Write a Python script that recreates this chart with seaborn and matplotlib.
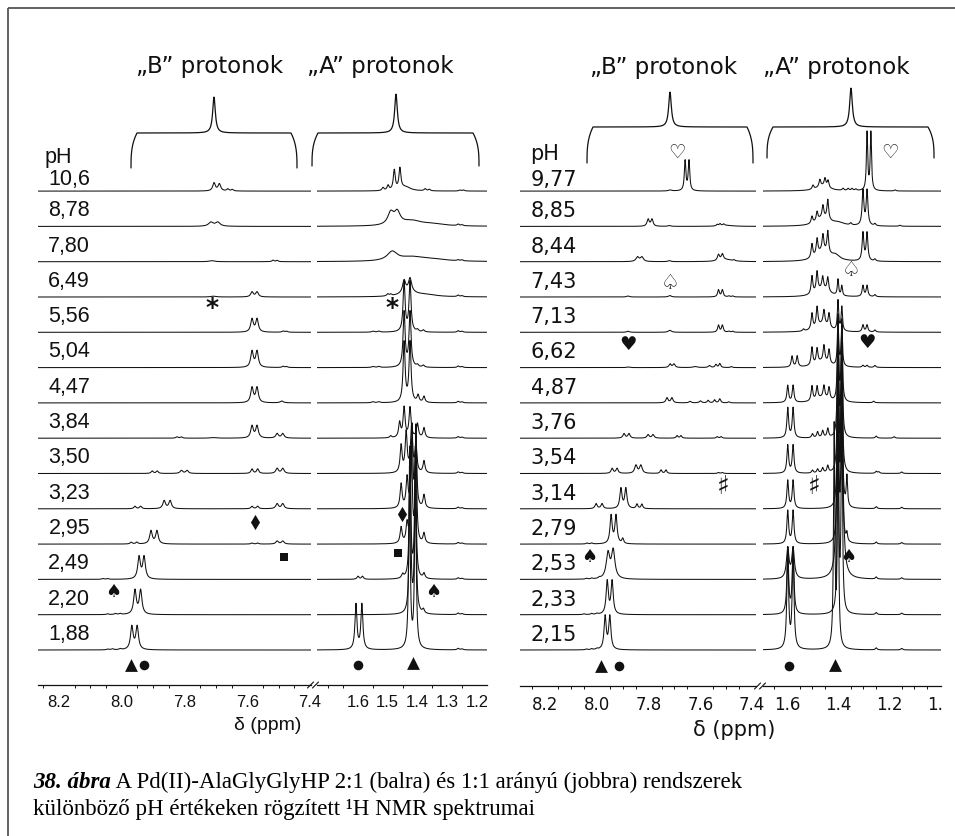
import numpy as np
import pandas as pd
import matplotlib
matplotlib.use("Agg")
import matplotlib.pyplot as plt
import seaborn as sns
from matplotlib.transforms import Bbox, TransformedBbox

sns.set_theme(style="white")
plt.rcParams["font.family"] = ["Liberation Sans", "DejaVu Sans"]

W, H = 955, 836
STEP = 35.3  # vertical offset between stacked spectra

ph_left = ["10,6", "8,78", "7,80", "6,49", "5,56", "5,04", "4,47",
           "3,84", "3,50", "3,23", "2,95", "2,49", "2,20", "1,88"]
ph_right = ["9,77", "8,85", "8,44", "7,43", "7,13", "6,62", "4,87",
            "3,76", "3,54", "3,14", "2,79", "2,53", "2,33", "2,15"]

# peak lists per spectrum: (shift / ppm, intensity, half width / ppm)
left_b = [
    [(7.706, 8, .005), (7.689, 7, .005), (7.662, 2, .004), (7.648, 1.5, .004)],
    [(7.716, 4, .009), (7.694, 4, .009)],
    [(7.713, 1, .01), (7.518, 1.5, .004), (7.505, 1.3, .004)],
    [(7.708, .8, .01), (7.585, 5, .005), (7.569, 5, .005)],
    [(7.585, 13, .005), (7.569, 13, .005), (7.486, 1.2, .004), (7.475, 1, .004)],
    [(7.585, 16, .005), (7.569, 16, .005), (7.486, 1.2, .004), (7.475, 1, .004)],
    [(7.585, 15, .005), (7.569, 15, .005), (7.49, 1.8, .006)],
    [(7.824, 1.3, .004), (7.81, 1.2, .004), (7.71, .6, .01), (7.585, 12, .005),
     (7.569, 12, .005), (7.505, 4.5, .005), (7.487, 4.5, .005)],
    [(7.903, 2.5, .004), (7.887, 2.5, .004), (7.81, 3, .005), (7.792, 3, .005),
     (7.585, 4.5, .004), (7.567, 4.5, .004), (7.505, 5, .005), (7.487, 5, .005)],
    [(7.958, 2.5, .004), (7.94, 2.5, .004), (7.865, 8, .005), (7.846, 8, .005),
     (7.585, 2.5, .004), (7.567, 2.5, .004), (7.505, 5, .005), (7.487, 5, .005)],
    [(7.97, 1.8, .004), (7.952, 1.8, .004), (7.907, 13, .005), (7.888, 13, .005),
     (7.585, 1, .004), (7.567, 1, .004), (7.505, 3, .005), (7.487, 3, .005)],
    [(8.06, .8, .004), (8.045, .8, .004), (7.945, 22, .005), (7.929, 22, .005)],
    [(8.045, .8, .004), (8.02, 1, .004), (8.005, 1, .004), (7.958, 24, .005), (7.94, 24, .005)],
    [(8.045, .8, .004), (8.03, 1, .004), (8.005, 1, .004), (7.968, 23, .005), (7.951, 23, .005)],
]

left_a = [
    [(1.516, 3, .004), (1.499, 5, .004), (1.478, 20, .004), (1.459, 21, .004), (1.44, 4, .02),
     (1.374, 2, .004), (1.36, 1.5, .004), (1.257, 1, .004), (1.245, 1, .004)],
    [(1.49, 12, .012), (1.468, 12, .012), (1.42, 5, .04), (1.35, 2, .05), (1.263, 1.5, .004), (1.25, 1, .004)],
    [(1.485, 9, .02), (1.42, 4, .05), (1.35, 2, .06), (1.263, 1, .004), (1.25, 1, .004)],
    [(1.50, 2, .004), (1.49, 1.5, .004), (1.445, 12, .006), (1.425, 13, .006), (1.43, 5, .03),
     (1.37, 2, .04), (1.263, 1.5, .004), (1.25, 1, .004)],
    [(1.55, 1, .005), (1.53, 1, .005), (1.445, 50, .004), (1.425, 50, .004), (1.40, 2, .004),
     (1.38, 2, .004), (1.263, 1.5, .004), (1.25, 1, .004)],
    [(1.55, 1, .005), (1.53, 1, .005), (1.445, 55, .004), (1.425, 55, .004), (1.40, 2, .004),
     (1.38, 2, .004), (1.263, 1.5, .004), (1.25, 1, .004)],
    [(1.55, 1, .005), (1.53, 1, .005), (1.445, 60, .004), (1.425, 60, .004), (1.398, 7, .004),
     (1.378, 6, .004), (1.263, 1.5, .004), (1.25, 1, .004)],
    [(1.49, 2, .004), (1.46, 15, .004), (1.445, 30, .004), (1.425, 30, .004), (1.40, 14, .004),
     (1.378, 10, .004), (1.263, 1.5, .004), (1.25, 1, .004)],
    [(1.455, 27, .004), (1.438, 40, .004), (1.42, 45, .004), (1.405, 25, .004), (1.378, 12, .004),
     (1.263, 1.5, .004), (1.25, 1, .004)],
    [(1.455, 24, .004), (1.435, 30, .004), (1.418, 80, .003), (1.405, 80, .003), (1.378, 13, .004),
     (1.263, 1.5, .004), (1.25, 1, .004)],
    [(1.455, 16, .004), (1.435, 19, .004), (1.42, 100, .003), (1.405, 100, .003), (1.378, 10, .004),
     (1.263, 1.5, .004), (1.25, 1, .004)],
    [(1.60, 3, .004), (1.585, 3, .004), (1.45, 4, .004), (1.425, 130, .003), (1.407, 130, .003),
     (1.378, 5, .004), (1.263, 1.5, .004), (1.25, 1, .004)],
    [(1.425, 160, .003), (1.407, 160, .003), (1.38, 4, .004), (1.263, 1.5, .004), (1.25, 1, .004)],
    [(1.607, 45, .004), (1.587, 45, .004), (1.427, 180, .003), (1.407, 180, .003),
     (1.263, 1.5, .004), (1.25, 1, .004)],
]

right_b = [
    [(7.717, 1, .008), (7.659, 30, .0035), (7.644, 30, .0035)],
    [(7.802, 7, .005), (7.787, 7, .005), (7.72, .8, .006), (7.535, 1.5, .004), (7.524, 2, .004),
     (7.51, 1.5, .004), (7.5, 1, .03)],
    [(7.843, 4.5, .007), (7.826, 4.5, .007), (7.72, 1, .006), (7.53, 6, .005), (7.515, 6, .005),
     (7.5, 2, .03), (7.47, 1, .004)],
    [(7.88, 1, .006), (7.718, 1.5, .006), (7.53, 7, .004), (7.515, 7, .004), (7.49, 1, .004), (7.475, 1, .004)],
    [(7.88, 1, .006), (7.718, 2, .007), (7.53, 7, .004), (7.515, 7, .004), (7.49, 1, .004), (7.475, 1, .004)],
    [(7.88, .6, .006), (7.717, 3.5, .005), (7.702, 3.5, .005), (7.62, 1, .01), (7.565, 2, .005),
     (7.54, 3, .004), (7.525, 4, .004), (7.48, 1, .004)],
    [(7.729, 5, .005), (7.71, 5, .005), (7.64, 1.5, .005), (7.6, 2, .005), (7.57, 2.5, .004),
     (7.545, 3, .004), (7.525, 4, .004), (7.49, 1, .004)],
    [(7.895, 4.5, .005), (7.876, 4.5, .005), (7.802, 3.5, .005), (7.783, 3.5, .005),
     (7.69, 2.5, .004), (7.675, 2.5, .004), (7.535, 1.5, .004), (7.52, 1.5, .004)],
    [(7.941, 5, .005), (7.922, 5, .005), (7.849, 8, .006), (7.83, 8, .006), (7.752, 3.5, .004),
     (7.733, 3.5, .004), (7.53, 1, .004), (7.515, 1, .004)],
    [(8.003, 5, .005), (7.98, 5, .005), (7.907, 20, .005), (7.888, 20, .005), (7.845, 4.5, .004),
     (7.826, 4.5, .004)],
    [(8.038, 1, .004), (8.02, 1, .004), (7.945, 28, .005), (7.926, 28, .005), (7.9, 5, .004)],
    [(8.04, .8, .004), (8.02, .8, .004), (7.99, 1, .004), (7.957, 25, .008), (7.937, 28, .008)],
    [(8.05, .8, .004), (8.02, 1, .004), (8.0, 1, .004), (7.96, 33, .005), (7.941, 33, .005)],
    [(8.04, .8, .004), (8.02, 1, .004), (8.0, 1, .004), (7.968, 33, .005), (7.95, 33, .005)],
]

right_a = [
    [(1.498, 4, .004), (1.471, 7, .004), (1.451, 8, .004), (1.439, 7, .004), (1.46, 5, .03),
     (1.38, 2, .004), (1.36, 2, .004), (1.345, 2, .004), (1.33, 1.5, .004), (1.286, 58, .003),
     (1.271, 58, .003), (1.176, 1, .004)],
    [(1.502, 7, .004), (1.482, 9, .004), (1.459, 12, .004), (1.44, 20, .004), (1.46, 8, .03),
     (1.40, 3, .03), (1.35, 2, .004), (1.302, 35, .004), (1.286, 35, .004), (1.255, 2, .004),
     (1.157, 1, .004)],
    [(1.502, 14, .004), (1.482, 16, .004), (1.459, 16, .004), (1.44, 22, .004), (1.46, 10, .03),
     (1.41, 5, .02), (1.302, 28, .004), (1.286, 28, .004), (1.255, 2, .004)],
    [(1.502, 18, .004), (1.482, 20, .004), (1.46, 12, .004), (1.44, 14, .004), (1.40, 16, .003),
     (1.385, 10, .003), (1.46, 8, .03), (1.302, 11, .004), (1.286, 11, .004), (1.255, 2, .004)],
    [(1.535, 2, .004), (1.502, 16, .004), (1.482, 20, .004), (1.455, 14, .004), (1.435, 14, .004),
     (1.40, 30, .003), (1.385, 24, .003), (1.46, 8, .03), (1.302, 7, .004), (1.286, 7, .004),
     (1.255, 2, .004)],
    [(1.58, 11, .004), (1.56, 11, .004), (1.502, 18, .004), (1.482, 15, .004), (1.455, 16, .004),
     (1.435, 14, .004), (1.40, 45, .003), (1.385, 40, .003), (1.46, 6, .03), (1.302, 2, .004),
     (1.286, 2, .004), (1.255, 2, .004)],
    [(1.597, 17, .004), (1.576, 17, .004), (1.502, 15, .004), (1.482, 13, .004), (1.455, 12, .004),
     (1.435, 12, .004), (1.40, 80, .003), (1.385, 75, .003), (1.46, 5, .03), (1.26, 1.5, .004)],
    [(1.597, 30, .004), (1.576, 30, .004), (1.50, 4, .004), (1.48, 6, .004), (1.46, 7, .004),
     (1.44, 9, .004), (1.40, 120, .003), (1.385, 115, .003), (1.25, 2, .004), (1.18, 1.5, .004)],
    [(1.597, 28, .004), (1.576, 28, .004), (1.50, 3, .004), (1.48, 4, .004), (1.46, 5, .004),
     (1.44, 7, .004), (1.40, 150, .003), (1.385, 145, .003), (1.25, 2, .004), (1.24, 1.5, .004),
     (1.15, 1.5, .004)],
    [(1.597, 28, .004), (1.576, 28, .004), (1.40, 170, .003), (1.385, 165, .003), (1.365, 30, .003),
     (1.25, 2, .004), (1.15, 1.5, .004)],
    [(1.597, 33, .004), (1.576, 33, .004), (1.40, 190, .003), (1.385, 185, .003), (1.365, 8, .003),
     (1.25, 2, .004), (1.15, 1.5, .004)],
    [(1.597, 30, .006), (1.576, 30, .006), (1.40, 200, .005), (1.385, 195, .005), (1.25, 2, .004),
     (1.15, 1.5, .004)],
    [(1.597, 65, .004), (1.576, 65, .004), (1.40, 210, .003), (1.385, 205, .003), (1.25, 2, .004),
     (1.15, 1.5, .004)],
    [(1.597, 100, .004), (1.576, 100, .004), (1.415, 220, .003), (1.40, 215, .003), (1.25, 2, .004),
     (1.15, 1.5, .004)],
]

# tick values per panel
lb_major = [8.2, 8.0, 7.8, 7.6, 7.4]
la_major = [1.6, 1.5, 1.4, 1.3, 1.2]
rb_major = [8.2, 8.0, 7.8, 7.6, 7.4]
ra_major = [1.6, 1.4, 1.2, 1.0]

fig = plt.figure(figsize=(W / 100, H / 100), dpi=100)
fig.patch.set_facecolor("white")

# pixel-space overlay for frame, brackets, labels and markers
ov = fig.add_axes([0, 0, 1, 1])
ov.set_xlim(0, W)
ov.set_ylim(H, 0)
ov.axis("off")


def spectrum(grid, peaks):
    y = np.zeros_like(grid)
    for c, h, w in peaks:
        y += h * w ** 2 / ((grid - c) ** 2 + w ** 2)
    return y


def panel(x0, x1, axis_y, xlim, peaks_list, major, minor_step, clip_x=None,
          tick_font="Liberation Sans", tick_size=12):
    ax = fig.add_axes([x0 / W, 1 - axis_y / H, (x1 - x0) / W, (axis_y - 55) / H])
    ax.patch.set_visible(False)
    grid = np.linspace(xlim[0], xlim[1], 2200)
    frames = []
    for i, peaks in enumerate(peaks_list):
        frames.append(pd.DataFrame({"ppm": grid,
                                    "signal": spectrum(grid, peaks) + (13 - i) * STEP,
                                    "row": i}))
    df = pd.concat(frames, ignore_index=True)
    sns.lineplot(data=df, x="ppm", y="signal", units="row", estimator=None, sort=False,
                 color="#111111", linewidth=0.75, ax=ax, legend=False)
    ax.set_xlim(*xlim)
    ax.set_ylim(-(axis_y - 650), 650 - 55)
    ax.set_xlabel("")
    ax.set_ylabel("")
    ax.set_yticks([])
    for s in ("top", "left", "right"):
        ax.spines[s].set_visible(False)
    ax.spines["bottom"].set_color("#111111")
    ax.spines["bottom"].set_linewidth(0.9)
    ax.set_xticks(major, [f"{v:.1f}" for v in major])
    lo, hi = min(xlim), max(xlim)
    mn = np.arange(np.ceil(lo / minor_step) * minor_step, hi, minor_step)
    ax.set_xticks(mn, minor=True)
    ax.tick_params(axis="x", which="major", direction="out", length=4, width=0.8,
                   color="#111111", pad=3, labelsize=tick_size, labelcolor="#111111")
    ax.tick_params(axis="x", which="minor", direction="out", length=2.5, width=0.7,
                   color="#111111", bottom=True)
    for lbl in ax.get_xticklabels():
        lbl.set_fontfamily(tick_font)
        if clip_x is not None:
            lbl.set_clip_on(True)
            lbl.set_clip_box(TransformedBbox(Bbox.from_extents(0, 0, clip_x / W, 1),
                                             fig.transFigure))
    return ax


panel(38, 311, 685, (8.267, 7.397), left_b, lb_major, 0.05)
panel(317, 487, 685, (1.738, 1.166), left_a, la_major, 0.05, clip_x=487)
panel(520, 756, 686, (8.297, 7.385), right_b, rb_major, 0.05,
      tick_font="DejaVu Sans", tick_size=12)
panel(763, 941, 686, (1.694, 0.996), right_a, ra_major, 0.05, clip_x=942,
      tick_font="DejaVu Sans", tick_size=12)

ink = "#111111"

# frame
ov.plot([8, W], [8, 8], color="#555555", lw=1.3, solid_capstyle="butt")
ov.plot([8, 8], [8, H], color="#555555", lw=1.3, solid_capstyle="butt")

# axis breaks
for bx, by in [(313, 685), (760, 686)]:
    for dx in (-2.5, 2.5):
        ov.plot([bx + dx - 3, bx + dx + 3], [by + 3, by - 3], color=ink, lw=0.8)


def bracket(x0, x1, y_h, y_end, y_top, xc):
    s = np.linspace(0, 1, 40)
    lx = x0 + 6 * s ** 3
    ly = y_end - (y_end - y_h) * s
    xs = np.linspace(x0 + 6, x1 - 6, 600)
    w = 1.6
    ys = y_h - (y_h - y_top) * w ** 2 / ((xs - xc) ** 2 + w ** 2)
    rx = x1 - 6 * s[::-1] ** 3
    ry = y_end - (y_end - y_h) * s[::-1]
    X = np.concatenate([lx, xs, rx])
    Y = np.concatenate([ly, ys, ry])
    ov.plot(X, Y, color=ink, lw=0.9)


bracket(131, 297, 133, 168, 97, 214)
bracket(312, 479, 133, 166, 94, 396)
bracket(587, 753, 127, 163, 92, 670)
bracket(767, 934, 127, 158, 88, 851)

hdr = dict(fontsize=16.5, family="DejaVu Sans", color=ink, ha="center", va="baseline")
ov.text(210, 73, "\u201eB\u201d protonok", **hdr)
ov.text(380, 73, "\u201eA\u201d protonok", **hdr)
ov.text(664, 74, "\u201eB\u201d protonok", **hdr)
ov.text(836, 74, "\u201eA\u201d protonok", **hdr)

# pH labels
ov.text(45, 163, "pH", fontsize=15.5, family="Liberation Sans", color=ink, va="baseline")
for i, lab in enumerate(ph_left):
    yb = 191 + i * STEP
    ov.text(90, yb - (6 if i == 0 else 10), lab, fontsize=15.5, family="Liberation Sans",
            color=ink, ha="right", va="baseline")
ov.text(530, 160, "pH", fontsize=15, family="DejaVu Sans", color=ink, va="baseline")
for i, lab in enumerate(ph_right):
    yb = 191 + i * STEP
    ov.text(577, yb - (5 if i == 0 else 9), lab, fontsize=15, family="DejaVu Sans",
            color=ink, ha="right", va="baseline")

# axis titles
ov.text(268, 726, "\u03b4 (ppm)", fontsize=14, family="Liberation Sans", color=ink,
        ha="center", va="center")
ov.text(734, 730, "\u03b4 (ppm)", fontsize=15, family="DejaVu Sans", color=ink,
        ha="center", va="center")

# signal markers
ov.scatter([131, 413, 601, 835], [665, 663, 666, 665], marker="^", s=85, color=ink, lw=0)
ov.scatter([144, 358, 619, 789], [665, 665, 666, 666], marker="o", s=48, color=ink, lw=0)
ov.scatter([255, 402], [522, 514], marker="d", s=60, color=ink, lw=0)
ov.scatter([284, 398], [557, 553], marker="s", s=36, color=ink, lw=0)
sym = dict(family="DejaVu Sans", color=ink, ha="center", va="center")
for x, y in [(113, 592), (433, 592), (589, 557), (848, 557)]:
    ov.text(x, y, "\u2660", fontsize=13, **sym)
for x, y in [(677, 152), (890, 152)]:
    ov.text(x, y, "\u2661", fontsize=14, **sym)
for x, y in [(670, 283), (851, 270)]:
    ov.text(x, y, "\u2664", fontsize=15, **sym)
for x, y in [(628, 345), (867, 343)]:
    ov.text(x, y, "\u2665", fontsize=14, **sym)
for x, y in [(723, 487), (814, 487)]:
    ov.text(x, y, "\u266f", fontsize=19, **sym)
for x, y in [(212, 308), (392, 308)]:
    ov.text(x, y, "*", fontsize=18, fontweight="bold", **sym)

# caption
cap = ov.text(33, 788, "38. \u00e1bra", fontsize=16.5, family="Liberation Serif",
              fontweight="bold", fontstyle="italic", color="black", va="baseline")
ov.annotate(" A Pd(II)-AlaGlyGlyHP 2:1 (balra) \u00e9s 1:1 ar\u00e1ny\u00fa (jobbra) rendszerek",
            xy=(1, 0), xycoords=cap, fontsize=16.5, family="Liberation Serif", color="black",
            ha="left", va="bottom")
ov.text(33, 815, "k\u00fcl\u00f6nb\u00f6z\u0151 pH \u00e9rt\u00e9keken r\u00f6gz\u00edtett \u00b9H NMR spektrumai",
        fontsize=16.5, family="Liberation Serif", color="black", va="baseline")

fig.savefig("out.png", dpi=100, facecolor="white")
